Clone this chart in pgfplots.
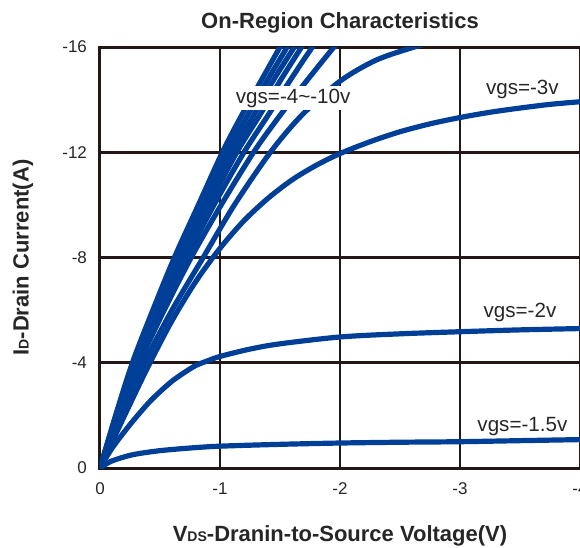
\documentclass[border=0pt]{standalone}
\usepackage{fontspec}
\setmainfont{Liberation Sans}
\usepackage{pgfplots}
\pgfplotsset{compat=1.18}
\definecolor{cb}{RGB}{0,63,152}
\definecolor{gk}{RGB}{35,24,21}
\begin{document}
\begin{tikzpicture}
\begin{axis}[name=ax, scale only axis, width=240pt, height=210.5pt,
 xmin=-4, xmax=0, ymin=-16, ymax=0, x dir=reverse, y dir=reverse,
 xtick={0,-1,-2,-3,-4}, xticklabels={0,-1,-2,-3,-4},
 ytick={0,-4,-8,-12,-16}, yticklabels={0,-4,-8,-12,-16},
 major tick length=0pt,
 grid=major, grid style={gk, line width=1.4pt},
 axis line style={gk, line width=1.5pt},
 tick label style={font=\fontsize{8.5}{10}\selectfont, text=black!85},
 xticklabel style={yshift=-4pt},
 yticklabel style={xshift=-3pt},
 every axis plot post/.append style={cb, solid, line width=2.6pt, smooth, mark=none},
 clip=true,
]
% vgs = -10 .. -4
\addplot coordinates {(0,0) (-0.13,-2) (-0.27,-4) (-0.44,-6) (-0.62,-8) (-0.82,-10) (-1.02,-12) (-1.18,-13.4) (-1.34,-14.7) (-1.5,-16) (-1.55,-16.4)};
\addplot coordinates {(0,0) (-0.135,-2) (-0.28,-4) (-0.46,-6) (-0.645,-8) (-0.85,-10) (-1.06,-12) (-1.23,-13.4) (-1.39,-14.7) (-1.56,-16) (-1.61,-16.4)};
\addplot coordinates {(0,0) (-0.14,-2) (-0.29,-4) (-0.475,-6) (-0.67,-8) (-0.88,-10) (-1.10,-12) (-1.28,-13.4) (-1.44,-14.7) (-1.62,-16) (-1.68,-16.4)};
\addplot coordinates {(0,0) (-0.145,-2) (-0.30,-4) (-0.49,-6) (-0.695,-8) (-0.91,-10) (-1.14,-12) (-1.33,-13.4) (-1.50,-14.7) (-1.68,-16) (-1.74,-16.4)};
\addplot coordinates {(0,0) (-0.15,-2) (-0.31,-4) (-0.505,-6) (-0.72,-8) (-0.95,-10) (-1.20,-12) (-1.40,-13.4) (-1.58,-14.7) (-1.77,-16) (-1.84,-16.4)};
\addplot coordinates {(0,0) (-0.16,-2) (-0.33,-4) (-0.535,-6) (-0.76,-8) (-1.01,-10) (-1.28,-12) (-1.50,-13.4) (-1.72,-14.7) (-1.95,-16) (-2.03,-16.4)};
\addplot coordinates {(0,0) (-0.175,-2) (-0.37,-4) (-0.60,-6) (-0.86,-8) (-1.12,-10) (-1.42,-12) (-1.68,-13.4) (-2.0,-14.7) (-2.3,-15.5) (-2.62,-16) (-2.8,-16.2)};
% vgs = -3
\addplot coordinates {(0,0) (-0.2,-1.95) (-0.4,-3.85) (-0.6,-5.6) (-0.8,-7.1) (-1.0,-8.35) (-1.2,-9.4) (-1.4,-10.25) (-1.6,-10.95) (-1.8,-11.5) (-2.0,-11.95) (-2.25,-12.4) (-2.5,-12.78) (-2.75,-13.08) (-3.0,-13.32) (-3.25,-13.52) (-3.5,-13.68) (-3.75,-13.82) (-4.0,-13.92)};
% vgs = -2
\addplot coordinates {(0,0) (-0.1,-0.75) (-0.25,-1.65) (-0.4,-2.45) (-0.5,-2.9) (-0.6,-3.3) (-0.7,-3.62) (-0.8,-3.9) (-0.9,-4.08) (-1.0,-4.24) (-1.25,-4.52) (-1.5,-4.72) (-2.0,-4.98) (-2.5,-5.1) (-3.0,-5.18) (-3.5,-5.25) (-4.0,-5.3)};
% vgs = -1.5
\addplot coordinates {(0,0) (-0.05,-0.15) (-0.1,-0.27) (-0.2,-0.42) (-0.3,-0.53) (-0.5,-0.66) (-0.75,-0.76) (-1,-0.83) (-1.5,-0.9) (-2,-0.95) (-2.5,-0.98) (-3,-1.0) (-3.5,-1.04) (-4,-1.08)};
\node[fill=white, inner sep=1.5pt, font=\fontsize{10.3}{12}\selectfont, text=black!85] at (axis cs:-1.61,-14.06) {vgs=-4\textasciitilde-10v};
\node[font=\fontsize{10.3}{12}\selectfont, text=black!85] at (axis cs:-3.52,-14.4) {vgs=-3v};
\node[font=\fontsize{10.3}{12}\selectfont, text=black!85] at (axis cs:-3.5,-5.9) {vgs=-2v};
\node[font=\fontsize{10.3}{12}\selectfont, text=black!85] at (axis cs:-3.52,-1.56) {vgs=-1.5v};
\end{axis}
\node[rotate=90, font=\bfseries\fontsize{11}{13}\selectfont, text=black!85] at ([xshift=-38.5pt]ax.west) {I{\fontsize{7}{8}\selectfont D}-Drain Current(A)};
\node[anchor=base, font=\bfseries\fontsize{11}{13}\selectfont, text=black!85] at ([yshift=-36.5pt]ax.south) {V{\fontsize{7}{8}\selectfont DS}-Dranin-to-Source Voltage(V)};
\node[anchor=base, font=\bfseries\fontsize{11}{13}\selectfont, text=black!85] at ([yshift=9.5pt]ax.north) {On-Region Characteristics};
\pgfresetboundingbox
\path ([shift={(-50pt,-39.5pt)}]ax.south west) rectangle ([yshift=23.5pt]ax.north east);
\end{tikzpicture}
\end{document}
